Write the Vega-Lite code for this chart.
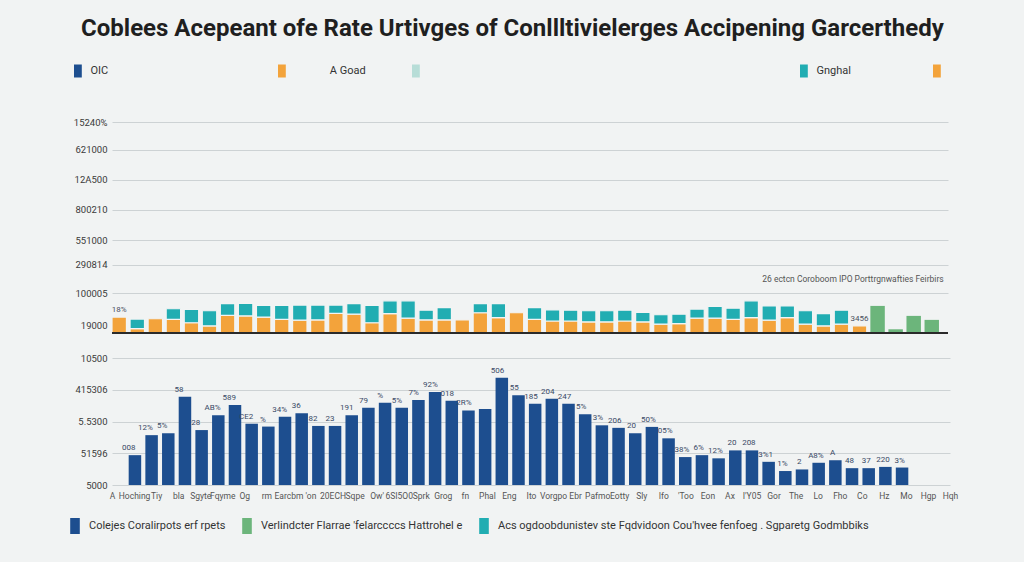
{
  "$schema": "https://vega.github.io/schema/vega-lite/v6.json",
  "background": "#f1f3f3",
  "padding": {"left": 67, "top": 16, "right": 66, "bottom": 28},
  "config": {"font": "Roboto", "view": {"stroke": null}},
  "title": {"text": "Coblees Acepeant ofe Rate Urtivges of Conllltivielerges Accipening Garcerthedy", "fontSize": 24, "font": "Roboto", "fontWeight": "bold", "color": "#1f1f1f", "anchor": "middle", "offset": 24},
  "datasets": {
    "top": [
      {"i": 1, "A Goad": 0.56, "Gnghal": 0, "t": "18%"},
      {"i": 2, "A Goad": 0.15, "Gnghal": 0.34},
      {"i": 3, "A Goad": 0.5, "Gnghal": 0},
      {"i": 4, "A Goad": 0.48, "Gnghal": 0.37},
      {"i": 5, "A Goad": 0.36, "Gnghal": 0.47},
      {"i": 6, "A Goad": 0.25, "Gnghal": 0.53},
      {"i": 7, "A Goad": 0.62, "Gnghal": 0.41},
      {"i": 8, "A Goad": 0.6, "Gnghal": 0.44},
      {"i": 9, "A Goad": 0.56, "Gnghal": 0.41},
      {"i": 10, "A Goad": 0.48, "Gnghal": 0.49},
      {"i": 11, "A Goad": 0.45, "Gnghal": 0.53},
      {"i": 12, "A Goad": 0.46, "Gnghal": 0.52},
      {"i": 13, "A Goad": 0.69, "Gnghal": 0.29},
      {"i": 14, "A Goad": 0.66, "Gnghal": 0.37},
      {"i": 15, "A Goad": 0.36, "Gnghal": 0.61},
      {"i": 16, "A Goad": 0.68, "Gnghal": 0.45},
      {"i": 17, "A Goad": 0.52, "Gnghal": 0.61},
      {"i": 18, "A Goad": 0.46, "Gnghal": 0.34},
      {"i": 19, "A Goad": 0.46, "Gnghal": 0.43},
      {"i": 20, "A Goad": 0.46, "Gnghal": 0},
      {"i": 21, "A Goad": 0.71, "Gnghal": 0.32},
      {"i": 22, "A Goad": 0.54, "Gnghal": 0.49},
      {"i": 23, "A Goad": 0.71, "Gnghal": 0},
      {"i": 24, "A Goad": 0.48, "Gnghal": 0.41},
      {"i": 25, "A Goad": 0.42, "Gnghal": 0.39},
      {"i": 26, "A Goad": 0.42, "Gnghal": 0.38},
      {"i": 27, "A Goad": 0.39, "Gnghal": 0.39},
      {"i": 28, "A Goad": 0.39, "Gnghal": 0.39},
      {"i": 29, "A Goad": 0.42, "Gnghal": 0.38},
      {"i": 30, "A Goad": 0.39, "Gnghal": 0.33},
      {"i": 31, "A Goad": 0.31, "Gnghal": 0.33},
      {"i": 32, "A Goad": 0.33, "Gnghal": 0.33},
      {"i": 33, "A Goad": 0.52, "Gnghal": 0.32},
      {"i": 34, "A Goad": 0.52, "Gnghal": 0.41},
      {"i": 35, "A Goad": 0.48, "Gnghal": 0.39},
      {"i": 36, "A Goad": 0.54, "Gnghal": 0.59},
      {"i": 37, "A Goad": 0.45, "Gnghal": 0.5},
      {"i": 38, "A Goad": 0.54, "Gnghal": 0.41},
      {"i": 39, "A Goad": 0.31, "Gnghal": 0.47},
      {"i": 40, "A Goad": 0.25, "Gnghal": 0.43},
      {"i": 41, "A Goad": 0.31, "Gnghal": 0.49},
      {"i": 42, "A Goad": 0.25, "Gnghal": 0, "t": "3456"}
    ],
    "green": [
      {"i": 43, "v": 0.95},
      {"i": 44, "v": 0.13},
      {"i": 45, "v": 0.6},
      {"i": 46, "v": 0.46}
    ],
    "bottom": [
      {"c": 1, "v": 0.94, "t": "008"},
      {"c": 2, "v": 1.57, "t": "12%"},
      {"c": 3, "v": 1.63, "t": "5%"},
      {"c": 4, "v": 2.78, "t": "58"},
      {"c": 5, "v": 1.73, "t": "28"},
      {"c": 6, "v": 2.2, "t": "AB%"},
      {"c": 7, "v": 2.52, "t": "589"},
      {"c": 8, "v": 1.93, "t": "CE2"},
      {"c": 9, "v": 1.84, "t": "%"},
      {"c": 10, "v": 2.15, "t": "34%"},
      {"c": 11, "v": 2.26, "t": "36"},
      {"c": 12, "v": 1.86, "t": "82"},
      {"c": 13, "v": 1.86, "t": "23"},
      {"c": 14, "v": 2.2, "t": "191"},
      {"c": 15, "v": 2.43, "t": "79"},
      {"c": 16, "v": 2.59, "t": "%"},
      {"c": 17, "v": 2.43, "t": "5%"},
      {"c": 18, "v": 2.68, "t": "7%"},
      {"c": 19, "v": 2.93, "t": "92%"},
      {"c": 20, "v": 2.65, "t": "018"},
      {"c": 21, "v": 2.35, "t": "2R%"},
      {"c": 22, "v": 2.39, "t": ""},
      {"c": 23, "v": 3.38, "t": "506"},
      {"c": 24, "v": 2.83, "t": "55"},
      {"c": 25, "v": 2.56, "t": "185"},
      {"c": 26, "v": 2.72, "t": "204"},
      {"c": 27, "v": 2.56, "t": "247"},
      {"c": 28, "v": 2.23, "t": "5%"},
      {"c": 29, "v": 1.88, "t": "3%"},
      {"c": 30, "v": 1.8, "t": "206"},
      {"c": 31, "v": 1.63, "t": "20"},
      {"c": 32, "v": 1.83, "t": "50%"},
      {"c": 33, "v": 1.47, "t": "05%"},
      {"c": 34, "v": 0.88, "t": "38%"},
      {"c": 35, "v": 0.94, "t": "6%"},
      {"c": 36, "v": 0.84, "t": "12%"},
      {"c": 37, "v": 1.09, "t": "20"},
      {"c": 38, "v": 1.09, "t": "208"},
      {"c": 39, "v": 0.73, "t": "3%1"},
      {"c": 40, "v": 0.44, "t": "1%"},
      {"c": 41, "v": 0.49, "t": "2"},
      {"c": 42, "v": 0.7, "t": "A8%"},
      {"c": 43, "v": 0.78, "t": "A"},
      {"c": 44, "v": 0.53, "t": "48"},
      {"c": 45, "v": 0.53, "t": "37"},
      {"c": 46, "v": 0.57, "t": "220"},
      {"c": 47, "v": 0.55, "t": "3%"}
    ],
    "xlabels": [
      {"n": "A"}, {"n": "Hoching"}, {"n": "Tiy"}, {"n": "bla"}, {"n": "Sgyte"}, {"n": "Fqyme"}, {"n": "Og"}, {"n": "rm"}, {"n": "Earcbm"}, {"n": "'on"},
      {"n": "20ECH"}, {"n": "Sqpe"}, {"n": "Ow'"}, {"n": "6SI5O0"}, {"n": "Sprk"}, {"n": "Grog"}, {"n": "fn"}, {"n": "Phal"}, {"n": "Eng"}, {"n": "Ito"},
      {"n": "Vorgpo"}, {"n": "Ebr"}, {"n": "Pafmo"}, {"n": "Eotty"}, {"n": "Sly"}, {"n": "Ifo"}, {"n": "'Too"}, {"n": "Eon"}, {"n": "Ax"}, {"n": "I'Y05"},
      {"n": "Gor"}, {"n": "The"}, {"n": "Lo"}, {"n": "Fho"}, {"n": "Co"}, {"n": "Hz"}, {"n": "Mo"}, {"n": "Hgp"}, {"n": "Hqh"}
    ]
  },
  "vconcat": [
    {
      "width": 836,
      "height": 211,
      "layer": [
        {
          "data": {"name": "top"},
          "transform": [
            {"fold": ["A Goad", "Gnghal"], "as": ["s", "v"]},
            {"filter": "datum.v > 0"}
          ],
          "mark": {"type": "bar", "stroke": "#f2f4f4", "strokeWidth": 1.2},
          "encoding": {
            "x": {"field": "i", "type": "ordinal", "scale": {"domain": [1,2,3,4,5,6,7,8,9,10,11,12,13,14,15,16,17,18,19,20,21,22,23,24,25,26,27,28,29,30,31,32,33,34,35,36,37,38,39,40,41,42,43,44,45,46], "paddingInner": 0.2, "paddingOuter": 0.25, "align": 0}, "axis": null},
            "y": {"field": "v", "type": "quantitative", "stack": "zero", "scale": {"domain": [0, 7.4], "nice": false},
              "axis": {"title": null, "values": [0.28, 1.4, 2.39, 3.26, 4.32, 5.37, 6.42, 7.4], "tickCount": 20,
                "labelExpr": "datum.value < 0.5 ? '19000' : datum.value < 1.5 ? '100005' : datum.value < 2.5 ? '290814' : datum.value < 3.5 ? '551000' : datum.value < 4.5 ? '800210' : datum.value < 5.5 ? '12A500' : datum.value < 6.5 ? '621000' : '15240%'",
                "domain": false, "ticks": false, "grid": true, "gridColor": "#cdd2d4", "labelOverlap": false,
                "gridOpacity": {"condition": {"test": "datum.value < 0.5", "value": 0}, "value": 1},
                "labelFontSize": 9.5, "labelColor": "#3a3a3a", "labelPadding": 5}},
            "color": {"field": "s", "type": "nominal",
              "scale": {"domain": ["OIC", "A Goad", "Light", "Gnghal", "Orange2"], "range": ["#1d4e8f", "#f3a33b", "#b7ddd7", "#21adb2", "#f3a33b"]},
              "legend": {"orient": "none", "legendX": -40.6, "legendY": -57.5, "direction": "horizontal", "title": null,
                "symbolType": "M-0.6,-1H0.6V1H-0.6Z", "symbolSize": 169, "symbolStrokeWidth": 0,
                "labelFontSize": 11, "labelFont": "Roboto", "labelColor": "#333", "labelOffset": 6, "columnPadding": 0, "labelLimit": 2000,
                "labelExpr": "datum.label == 'OIC' ? pad('OIC', 64, '\u00a0') + '\u200b' : datum.label == 'A Goad' ? '\u200b' + pad(pad('A Goad', 19, '\u00a0', 'left'), 35, '\u00a0') + '\u200b' : datum.label == 'Light' ? '\u200b' + pad('', 135, '\u00a0') + '\u200b' : datum.label == 'Gnghal' ? pad('Gnghal', 35, '\u00a0') + '\u200b' : ''"}},
            "order": {"field": "s", "sort": "ascending"}
          }
        },
        {
          "data": {"name": "green"},
          "mark": {"type": "bar", "color": "#6cb57b"},
          "encoding": {
            "x": {"field": "i", "type": "ordinal", "axis": null},
            "y": {"field": "v", "type": "quantitative"}
          }
        },
        {
          "data": {"name": "top"},
          "transform": [{"filter": "datum.t"}],
          "mark": {"type": "text", "dy": -7, "fontSize": 8, "color": "#4a5060"},
          "encoding": {
            "x": {"field": "i", "type": "ordinal", "axis": null},
            "y": {"field": "A Goad", "type": "quantitative", "stack": null},
            "text": {"field": "t"}
          }
        },
        {
          "data": {"values": [{}]},
          "mark": {"type": "rule", "color": "#2a2a2a", "strokeWidth": 2},
          "encoding": {"y": {"datum": 0, "type": "quantitative"}}
        },
        {
          "data": {"values": [{}]},
          "mark": {"type": "text", "align": "left", "dx": -7, "fontSize": 8.5, "color": "#555"},
          "encoding": {"x": {"datum": 37, "type": "ordinal", "axis": null}, "y": {"datum": 1.89, "type": "quantitative"}, "text": {"value": "26 ectcn Coroboom IPO   Porttrgnwafties Feirbirs"}}
        }
      ]
    },
    {
      "width": 838,
      "height": 127,
      "layer": [
        {
          "data": {"name": "bottom"},
          "mark": {"type": "bar"},
          "encoding": {
            "x": {"field": "c", "type": "ordinal", "scale": {"domain": [0,1,2,3,4,5,6,7,8,9,10,11,12,13,14,15,16,17,18,19,20,21,22,23,24,25,26,27,28,29,30,31,32,33,34,35,36,37,38,39,40,41,42,43,44,45,46,47,48,49], "paddingInner": 0.25, "paddingOuter": 0.25, "align": 0}, "axis": null},
            "y": {"field": "v", "type": "quantitative", "scale": {"domain": [0, 4], "nice": false},
              "axis": {"title": null, "values": [0, 1, 2, 3, 4], "tickCount": 20,
                "labelExpr": "datum.value == 0 ? '5000' : datum.value == 1 ? '51596' : datum.value == 2 ? '5.5300' : datum.value == 3 ? '415306' : '10500'",
                "domain": false, "ticks": false, "grid": true, "gridColor": "#cdd2d4", "labelOverlap": false,
                "labelFontSize": 9.5, "labelColor": "#3a3a3a", "labelPadding": 5}},
            "color": {"datum": "Colejes Coralirpots erf rpets", "type": "nominal",
              "scale": {"domain": ["Colejes Coralirpots erf rpets", "Verlindcter Flarrae 'felarccccs Hattrohel e", "Acs ogdoobdunistev ste Fqdvidoon Cou'hvee fenfoeg . Sgparetg Godmbbiks"], "range": ["#1d4e8f", "#6cb57b", "#21adb2"]},
              "legend": {"orient": "none", "legendX": -45, "legendY": 160, "direction": "horizontal", "title": null,
                "symbolType": "M-0.6,-1H0.6V1H-0.6Z", "symbolSize": 256, "symbolStrokeWidth": 0,
                "labelFontSize": 11, "labelFont": "Roboto", "labelColor": "#333", "labelOffset": 6, "columnPadding": 13, "labelLimit": 2000}}
          }
        },
        {
          "data": {"name": "bottom"},
          "mark": {"type": "text", "dy": -7, "fontSize": 8, "color": "#3a4a66"},
          "encoding": {
            "x": {"field": "c", "type": "ordinal", "scale": {"domain": [0,1,2,3,4,5,6,7,8,9,10,11,12,13,14,15,16,17,18,19,20,21,22,23,24,25,26,27,28,29,30,31,32,33,34,35,36,37,38,39,40,41,42,43,44,45,46,47,48,49], "paddingInner": 0.25, "paddingOuter": 0.25, "align": 0}, "axis": null},
            "y": {"field": "v", "type": "quantitative"},
            "text": {"field": "t"}
          }
        },
        {
          "data": {"name": "xlabels"},
          "mark": {"type": "point", "opacity": 0},
          "encoding": {
            "x": {"field": "n", "type": "ordinal", "sort": null, "scale": {"type": "point", "padding": 0},
              "axis": {"orient": "bottom", "title": null, "domain": false, "ticks": false, "labelAngle": 0, "labelOverlap": false, "labelFontSize": 8.5, "labelColor": "#555", "labelPadding": 6}},
            "y": {"datum": 0, "type": "quantitative"}
          }
        }
      ],
      "resolve": {"scale": {"x": "independent"}}
    }
  ],
  "spacing": 19,
  "resolve": {"scale": {"color": "independent"}, "legend": {"color": "independent"}}
}
